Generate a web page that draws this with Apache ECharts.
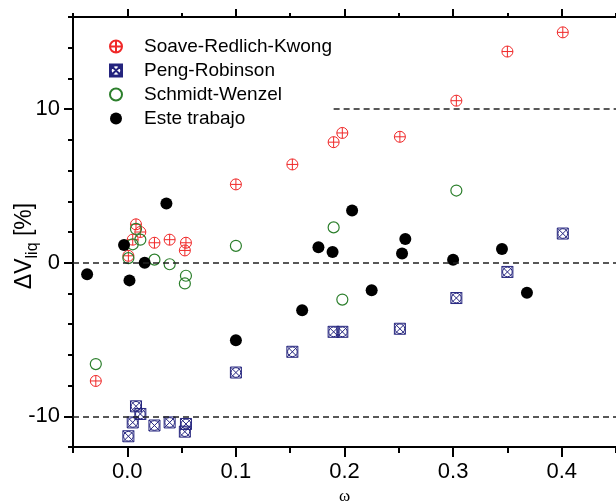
<!DOCTYPE html>
<html>
<head>
<meta charset="utf-8">
<script src="https://cdn.jsdelivr.net/npm/echarts@6/dist/echarts.min.js"></script>
<style>
  html, body { margin: 0; padding: 0; background: #fff; }
  #chart { width: 616px; height: 504px; }
</style>
</head>
<body>
<div id="chart"></div>
<script>
// Deviation of predicted liquid volume [%] versus acentric factor ω
const srkPoints = [
  [-0.029, -7.7], [0.001, 0.45], [0.005, 1.5], [0.008, 2.5], [0.012, 2.0],
  [0.025, 1.3], [0.039, 1.5], [0.053, 0.8], [0.054, 1.3], [0.100, 5.1],
  [0.152, 6.4], [0.190, 7.85], [0.198, 8.45], [0.251, 8.2], [0.303, 10.55],
  [0.350, 13.75], [0.401, 15.0]
];
const prPoints = [
  [0.001, -11.3], [0.005, -10.4], [0.008, -9.35], [0.012, -9.85], [0.025, -10.6],
  [0.039, -10.4], [0.053, -11.0], [0.054, -10.5], [0.100, -7.15], [0.152, -5.8],
  [0.190, -4.5], [0.198, -4.5], [0.251, -4.3], [0.303, -2.3], [0.350, -0.6],
  [0.401, 1.9]
];
const swPoints = [
  [-0.029, -6.6], [0.001, 0.3], [0.005, 1.2], [0.008, 2.2], [0.012, 1.5],
  [0.025, 0.2], [0.039, -0.1], [0.053, -1.35], [0.054, -0.85], [0.100, 1.1],
  [0.190, 2.3], [0.198, -2.4], [0.303, 4.7]
];
const thisWorkPoints = [
  [-0.037, -0.75], [-0.003, 1.15], [0.002, -1.15], [0.016, 0.0], [0.036, 3.85],
  [0.100, -5.05], [0.161, -3.1], [0.176, 1.0], [0.189, 0.7], [0.207, 3.4],
  [0.225, -1.8], [0.253, 0.6], [0.256, 1.55], [0.300, 0.2], [0.345, 0.9],
  [0.368, -1.95]
];
const seriesNames = ['Soave-Redlich-Kwong', 'Peng-Robinson', 'Schmidt-Wenzel', 'Este trabajo'];

// axis ranges and tick values
const xRange = [-0.05, 0.45];
const yRange = [-12, 16];
const xLabelValues = [0, 0.1, 0.2, 0.3, 0.4];
const yLabelValues = [-10, 0, 10];

// dashed reference levels: full-width ones and the partial +10 band
const fullRefLevels = [0, -10];
const partialRefLine = [[0.19, 10], [0.45, 10]];

const FONT = 'Liberation Sans, Arial, sans-serif';
const AXIS_COLOR = '#000';

const circlePlus = 'path://M0,5A5,5,0,1,1,10,5A5,5,0,1,1,0,5ZM5,0L5,10M0,5L10,5';
const squareCross = 'path://M0,0L10,0L10,10L0,10ZM0,0L10,10M10,0L0,10M0.6,5A4.4,4.4,0,1,1,9.4,5A4.4,4.4,0,1,1,0.6,5Z';

const baseX = {
  type: 'value', min: xRange[0], max: xRange[1], interval: 0.05,
  gridIndex: 0, splitLine: { show: false }
};
const baseY = {
  type: 'value', min: yRange[0], max: yRange[1], interval: 2,
  gridIndex: 0, splitLine: { show: false }
};
const solidLine = { show: true, onZero: false, lineStyle: { color: AXIS_COLOR, width: 2 } };
const noLine = { show: false, onZero: false };

const chart = echarts.init(document.getElementById('chart'), null, { renderer: 'canvas' });

chart.setOption({
  animation: false,
  backgroundColor: '#fff',
  grid: { left: 73, right: 0, top: 17, bottom: 57, containLabel: false, outerBoundsMode: 'none' },
  xAxis: [
    Object.assign({}, baseX, {
      position: 'bottom',
      axisLine: solidLine,
      axisTick: { show: true, length: 6, lineStyle: { color: AXIS_COLOR, width: 2 } },
      axisLabel: {
        customValues: xLabelValues, margin: 14, fontSize: 22, color: '#000', fontFamily: FONT,
        formatter: v => v.toFixed(1)
      },
      name: 'ω', nameLocation: 'middle', nameGap: 41, nameMoveOverlap: false,
      nameTextStyle: { fontSize: 17, color: '#000', fontFamily: 'Liberation Serif, serif' }
    }),
    Object.assign({}, baseX, {
      position: 'bottom',
      axisLine: noLine,
      axisTick: { show: true, length: 10, customValues: xLabelValues, lineStyle: { color: AXIS_COLOR, width: 2 } },
      axisLabel: { show: false }
    }),
    Object.assign({}, baseX, {
      position: 'top',
      axisLine: solidLine,
      axisTick: { show: true, length: 4, lineStyle: { color: AXIS_COLOR, width: 2 } },
      axisLabel: { show: false }
    }),
    Object.assign({}, baseX, {
      position: 'top',
      axisLine: noLine,
      axisTick: { show: true, length: 8, customValues: xLabelValues, lineStyle: { color: AXIS_COLOR, width: 2 } },
      axisLabel: { show: false }
    })
  ],
  yAxis: [
    Object.assign({}, baseY, {
      position: 'left',
      axisLine: solidLine,
      axisTick: { show: true, length: 5, lineStyle: { color: AXIS_COLOR, width: 2 } },
      axisLabel: { customValues: yLabelValues, margin: 13, fontSize: 22, color: '#000', fontFamily: FONT },
      name: '{m|ΔV}{s|liq}{m| [%]}',
      nameLocation: 'middle', nameRotate: 90, nameGap: 32, nameMoveOverlap: false,
      nameTextStyle: {
        color: '#000', fontFamily: FONT, padding: [0, 28, 0, 0],
        rich: {
          m: { fontSize: 23, fontFamily: FONT, color: '#000', lineHeight: 28, verticalAlign: 'top' },
          s: { fontSize: 16, fontFamily: FONT, color: '#000', lineHeight: 16, padding: [12, 0, 0, 0], verticalAlign: 'bottom' }
        }
      }
    }),
    Object.assign({}, baseY, {
      position: 'left',
      axisLine: noLine,
      axisTick: { show: true, length: 9, customValues: yLabelValues, lineStyle: { color: AXIS_COLOR, width: 2 } },
      axisLabel: { show: false }
    })
  ],
  legend: {
    data: seriesNames,
    orient: 'vertical', left: 104, top: 32,
    itemWidth: 12, itemHeight: 12, itemGap: 5,
    textStyle: { fontSize: 19, color: '#000', fontFamily: FONT, padding: [0, 0, 0, 17] }
  },
  series: [
    {
      name: 'reference levels', type: 'line', data: [], z: 1,
      xAxisIndex: 0, yAxisIndex: 0,
      markLine: {
        silent: true, symbol: 'none', label: { show: false },
        lineStyle: { color: '#222', type: [6, 4], width: 1.5 },
        data: fullRefLevels.map(v => ({ yAxis: v })).concat([
          [{ coord: partialRefLine[0] }, { coord: partialRefLine[1] }]
        ])
      }
    },
    {
      name: seriesNames[0], type: 'scatter', data: srkPoints, z: 3,
      symbol: circlePlus, symbolSize: 11,
      itemStyle: { color: 'rgba(0,0,0,0)', borderColor: '#f02828', borderWidth: 1, opacity: 1 }
    },
    {
      name: seriesNames[1], type: 'scatter', data: prPoints, z: 3,
      symbol: squareCross, symbolSize: 11,
      itemStyle: { color: 'rgba(0,0,0,0)', borderColor: '#24247e', borderWidth: 1, opacity: 1 }
    },
    {
      name: seriesNames[2], type: 'scatter', data: swPoints, z: 3,
      symbol: 'circle', symbolSize: 11,
      itemStyle: { color: 'rgba(0,0,0,0)', borderColor: '#2c7f2c', borderWidth: 1.2, opacity: 1 }
    },
    {
      name: seriesNames[3], type: 'scatter', data: thisWorkPoints, z: 4,
      symbol: 'circle', symbolSize: 12,
      itemStyle: { color: '#000', opacity: 1 }
    }
  ]
});
</script>
</body>
</html>
